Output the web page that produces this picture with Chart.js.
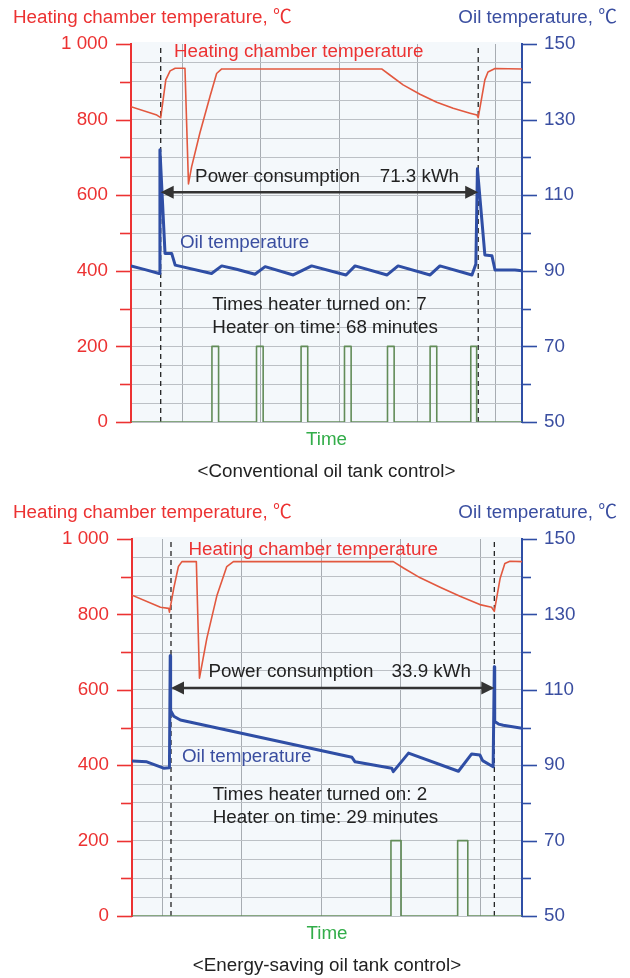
<!DOCTYPE html>
<html>
<head>
<meta charset="utf-8">
<title>Oil tank control</title>
<script src="https://cdn.jsdelivr.net/npm/chart.js@4.4.1/dist/chart.umd.min.js"></script>
<style>
  body { margin: 0; background: #ffffff; }
  canvas { display: block; }
</style>
</head>
<body>
<canvas id="convChart" width="630" height="490"></canvas>
<canvas id="saveChart" width="630" height="488"></canvas>
<script>
// time axis runs 0..100 across the plot (the original has no time units)

// ---- conventional oil tank control ----
const convHeatTime = [0, 6.6, 7.6, 8.9, 10.0, 11.3, 13.8, 14.7, 15.5, 17.6, 20.2, 21.9, 23.2, 64.1, 66.2, 69.6, 73.9, 78.2, 82.4, 86.7, 88.5, 88.8, 90.5, 91.3, 93.1, 100];
const convHeatTemp = [834, 812, 805, 905, 929, 936, 936, 630, 675, 764, 861, 922, 934, 934, 918, 892, 867, 846, 830, 817, 812, 805, 905, 926, 935, 934];
const convOilTime = [0, 3.6, 7.2, 7.4, 8.7, 10.4, 11.3, 20.6, 23.2, 27.0, 31.7, 34.3, 41.5, 46.2, 53.5, 55.0, 57.3, 65.5, 68.3, 76.5, 79.0, 87.2, 88.2, 88.6, 90.5, 92.3, 93.1, 98.2, 100];
const convOilTemp = [91.3, 90.3, 89.3, 122, 94.6, 94.6, 91.5, 89.3, 91.3, 90.4, 89.1, 91.1, 88.9, 91.3, 89.3, 88.9, 91.3, 88.9, 91.3, 88.9, 91.3, 88.9, 91.8, 117, 94.2, 94.0, 90.2, 90.2, 90.0];
const convHeaterOn = [20.7, 32.1, 43.5, 54.6, 65.6, 76.5, 86.9];
const convHeaterOff = [22.4, 33.8, 45.2, 56.3, 67.3, 78.2, 88.4];
const convMarkers = [7.6, 88.8];
const convGrid = [13.2, 33.2, 53.2, 73.2, 93.2];
const convPower = '71.3 kWh';
const convTimesOn = 7;
const convOnMinutes = 68;

// ---- energy-saving oil tank control ----
const saveHeatTime = [0, 7.3, 9.4, 9.6, 10.7, 11.9, 12.8, 16.5, 17.3, 19.2, 21.8, 24.3, 26.0, 67.0, 69.6, 73.9, 79.0, 84.1, 89.2, 92.2, 92.9, 94.4, 95.6, 96.9, 100];
const saveHeatTemp = [851, 819, 816, 806, 869, 927, 940, 940, 631, 737, 851, 927, 940, 940, 923, 897, 872, 848, 826, 819, 808, 896, 935, 941, 940];
const saveOilTime = [0, 3.8, 8.1, 9.6, 9.8, 9.9, 10.7, 12.4, 56.4, 57.2, 66.6, 67.0, 70.9, 83.7, 87.1, 89.2, 89.9, 92.6, 92.9, 93.0, 94.0, 95.2, 100];
const saveOilTemp = [91.1, 90.9, 89.2, 89.3, 119, 104.5, 103.0, 102.0, 92.1, 90.9, 89.2, 88.3, 93.2, 88.4, 93.0, 92.7, 91.2, 89.6, 116.1, 101.6, 100.9, 100.6, 99.8];
const saveHeaterOn = [66.4, 83.5];
const saveHeaterOff = [69.0, 86.1];
const saveMarkers = [10.0, 92.9];
const saveGrid = [7.8, 28.2, 48.7, 68.9, 89.4];
const savePower = '33.9 kWh';
const saveTimesOn = 2;
const saveOnMinutes = 29;

const leftTicks = [0, 200, 400, 600, 800, 1000];
const rightTicks = [50, 70, 90, 110, 130, 150];
const heaterLevel = 200;

const RED = '#ec3232';
const RED_LINE = '#e2583f';
const BLUE_TEXT = '#3a4ea0';
const BLUE_LINE = '#2f4ea5';
const GREEN_LINE = '#628c58';
const GREEN_TEXT = '#33ad4a';
const INK = '#222222';
const PLOT_BG = '#f4f8fb';
const FAMILY = "'Liberation Sans', Arial, 'Noto Sans CJK JP', sans-serif";
const FONT = '18.8px ' + FAMILY;

function pairs(xs, ys) {
    return xs.map((x, i) => ({ x: x, y: ys[i] }));
}

function heaterSteps(on, off) {
    const pts = [{ x: 0, y: 0 }];
    on.forEach((t, i) => {
        pts.push({ x: t, y: 0 }, { x: t, y: heaterLevel }, { x: off[i], y: heaterLevel }, { x: off[i], y: 0 });
    });
    pts.push({ x: 100, y: 0 });
    return pts;
}

function fmtLeft(v) {
    return v >= 1000 ? '1 000' : String(v);
}

const decorPlugin = {
    id: 'decor',
    beforeDraw(chart) {
        const { ctx, chartArea: a } = chart;
        ctx.save();
        ctx.fillStyle = PLOT_BG;
        ctx.fillRect(a.left, a.top - 2, a.right - a.left, a.bottom - a.top + 2);
        ctx.restore();
    },
    afterDraw(chart, args, o) {
        const { ctx, chartArea: a } = chart;
        const sx = chart.scales.x, sy = chart.scales.y, sr = chart.scales.y1;
        ctx.save();

        // tick marks on the two value axes
        ctx.lineWidth = 1.6;
        ctx.strokeStyle = RED;
        for (let v = 0; v <= 1000; v += 100) {
            const py = Math.round(sy.getPixelForValue(v)) + 0.5;
            const len = leftTicks.includes(v) ? 15 : 11;
            ctx.beginPath(); ctx.moveTo(a.left - len, py); ctx.lineTo(a.left, py); ctx.stroke();
        }
        ctx.strokeStyle = BLUE_LINE;
        for (let v = 50; v <= 150; v += 10) {
            const py = Math.round(sr.getPixelForValue(v)) + 0.5;
            const len = rightTicks.includes(v) ? 15 : 9;
            ctx.beginPath(); ctx.moveTo(a.right, py); ctx.lineTo(a.right + len, py); ctx.stroke();
        }

        // power consumption arrow between the dashed markers
        const ay = sy.getPixelForValue(o.arrowAt);
        const x0 = sx.getPixelForValue(o.markers[0]);
        const x1 = sx.getPixelForValue(o.markers[1]);
        ctx.strokeStyle = '#333333';
        ctx.fillStyle = '#333333';
        ctx.lineWidth = 2.4;
        ctx.beginPath(); ctx.moveTo(x0 + 10, ay); ctx.lineTo(x1 - 10, ay); ctx.stroke();
        ctx.beginPath(); ctx.moveTo(x0, ay); ctx.lineTo(x0 + 13, ay - 6.5); ctx.lineTo(x0 + 13, ay + 6.5); ctx.closePath(); ctx.fill();
        ctx.beginPath(); ctx.moveTo(x1, ay); ctx.lineTo(x1 - 13, ay - 6.5); ctx.lineTo(x1 - 13, ay + 6.5); ctx.closePath(); ctx.fill();

        // notes inside the plot
        ctx.font = FONT;
        ctx.textBaseline = 'middle';
        o.notes.forEach(n => {
            ctx.fillStyle = n.color;
            ctx.textAlign = n.align || 'left';
            ctx.fillText(n.text, sx.getPixelForValue(n.x), sy.getPixelForValue(n.y));
        });

        // axis titles, time label, caption
        ctx.textAlign = 'left';
        ctx.fillStyle = RED;
        ctx.fillText('Heating chamber temperature, ℃', 13, a.top - 26);
        ctx.textAlign = 'right';
        ctx.fillStyle = BLUE_TEXT;
        ctx.fillText('Oil temperature, ℃', 617, a.top - 26);
        const cx = (a.left + a.right) / 2;
        ctx.textAlign = 'center';
        ctx.fillStyle = GREEN_TEXT;
        ctx.fillText('Time', cx, a.bottom + 18);
        ctx.fillStyle = INK;
        ctx.fillText(o.caption, cx, a.bottom + 50);
        ctx.restore();
    }
};

function makeChart(id, d) {
    const ctx = document.getElementById(id).getContext('2d');
    const datasets = [
        { label: 'Oil temperature', data: pairs(d.oilTime, d.oilTemp), yAxisID: 'y1', borderColor: BLUE_LINE, borderWidth: 3 },
        { label: 'Heating chamber temperature', data: pairs(d.heatTime, d.heatTemp), yAxisID: 'y', borderColor: RED_LINE, borderWidth: 1.6 },
        { label: 'Heater', data: heaterSteps(d.heaterOn, d.heaterOff), yAxisID: 'y', borderColor: GREEN_LINE, borderWidth: 1.6 }
    ];
    d.markers.forEach(m => {
        datasets.push({ label: 'marker', data: [{ x: m, y: 0 }, { x: m, y: 1000 }], yAxisID: 'y', borderColor: '#111111', borderWidth: 1.2, borderDash: [5, 4] });
    });

    return new Chart(ctx, {
        type: 'line',
        data: { datasets: datasets },
        plugins: [decorPlugin],
        options: {
            responsive: false,
            animation: false,
            events: [],
            layout: { padding: { top: d.top, left: 0, right: 0, bottom: 0 } },
            elements: {
                point: { radius: 0 },
                line: { tension: 0, fill: false, borderJoinStyle: 'round' }
            },
            scales: {
                x: {
                    type: 'linear', min: 0, max: 100,
                    afterBuildTicks: s => { s.ticks = d.grid.map(v => ({ value: v })); },
                    afterFit: s => { s.height = d.bottom; },
                    ticks: { display: false },
                    grid: { color: '#a7acb2', lineWidth: 1, drawTicks: false },
                    border: { display: false }
                },
                y: {
                    position: 'left', min: 0, max: 1000,
                    afterFit: s => { s.width = d.left; },
                    ticks: {
                        stepSize: 50, autoSkip: false, padding: 23, color: RED,
                        font: { family: FAMILY, size: 18.8 },
                        callback: v => leftTicks.includes(v) ? fmtLeft(v) : ''
                    },
                    grid: {
                        drawTicks: false, lineWidth: 1,
                        color: c => (c.tick && c.tick.value === 1000) ? 'rgba(0,0,0,0)' : '#bcc0c5'
                    },
                    border: { color: RED, width: 2 }
                },
                y1: {
                    position: 'right', min: 50, max: 150,
                    afterFit: s => { s.width = 108; },
                    ticks: {
                        stepSize: 10, autoSkip: false, padding: 22, color: BLUE_TEXT,
                        font: { family: FAMILY, size: 18.8 },
                        callback: v => rightTicks.includes(v) ? String(v) : ''
                    },
                    grid: { drawOnChartArea: false, drawTicks: false },
                    border: { color: BLUE_LINE, width: 2 }
                }
            },
            plugins: {
                legend: { display: false },
                tooltip: { enabled: false },
                decor: {
                    arrowAt: d.arrowAt,
                    markers: d.markers,
                    notes: d.notes,
                    caption: d.caption
                }
            }
        }
    });
}

window.onload = () => {
    makeChart('convChart', {
        heatTime: convHeatTime, heatTemp: convHeatTemp,
        oilTime: convOilTime, oilTemp: convOilTemp,
        heaterOn: convHeaterOn, heaterOff: convHeaterOff,
        markers: convMarkers, grid: convGrid,
        top: 44, bottom: 68, left: 131,
        arrowAt: 608,
        caption: '<Conventional oil tank control>',
        notes: [
            { text: 'Heating chamber temperature', x: 11.0, y: 979, color: RED },
            { text: 'Power consumption', x: 16.4, y: 648, color: INK },
            { text: convPower, x: 83.9, y: 648, color: INK, align: 'right' },
            { text: 'Oil temperature', x: 12.5, y: 474, color: BLUE_TEXT },
            { text: 'Times heater turned on: ' + convTimesOn, x: 20.8, y: 310, color: INK },
            { text: 'Heater on time: ' + convOnMinutes + ' minutes', x: 20.8, y: 249, color: INK }
        ]
    });

    makeChart('saveChart', {
        heatTime: saveHeatTime, heatTemp: saveHeatTemp,
        oilTime: saveOilTime, oilTemp: saveOilTemp,
        heaterOn: saveHeaterOn, heaterOff: saveHeaterOff,
        markers: saveMarkers, grid: saveGrid,
        top: 49, bottom: 62, left: 132,
        arrowAt: 605,
        caption: '<Energy-saving oil tank control>',
        notes: [
            { text: 'Heating chamber temperature', x: 14.5, y: 971, color: RED },
            { text: 'Power consumption', x: 19.6, y: 648, color: INK },
            { text: savePower, x: 86.9, y: 648, color: INK, align: 'right' },
            { text: 'Oil temperature', x: 12.8, y: 422, color: BLUE_TEXT },
            { text: 'Times heater turned on: ' + saveTimesOn, x: 20.7, y: 322, color: INK },
            { text: 'Heater on time: ' + saveOnMinutes + ' minutes', x: 20.7, y: 260, color: INK }
        ]
    });
};
</script>
</body>
</html>
